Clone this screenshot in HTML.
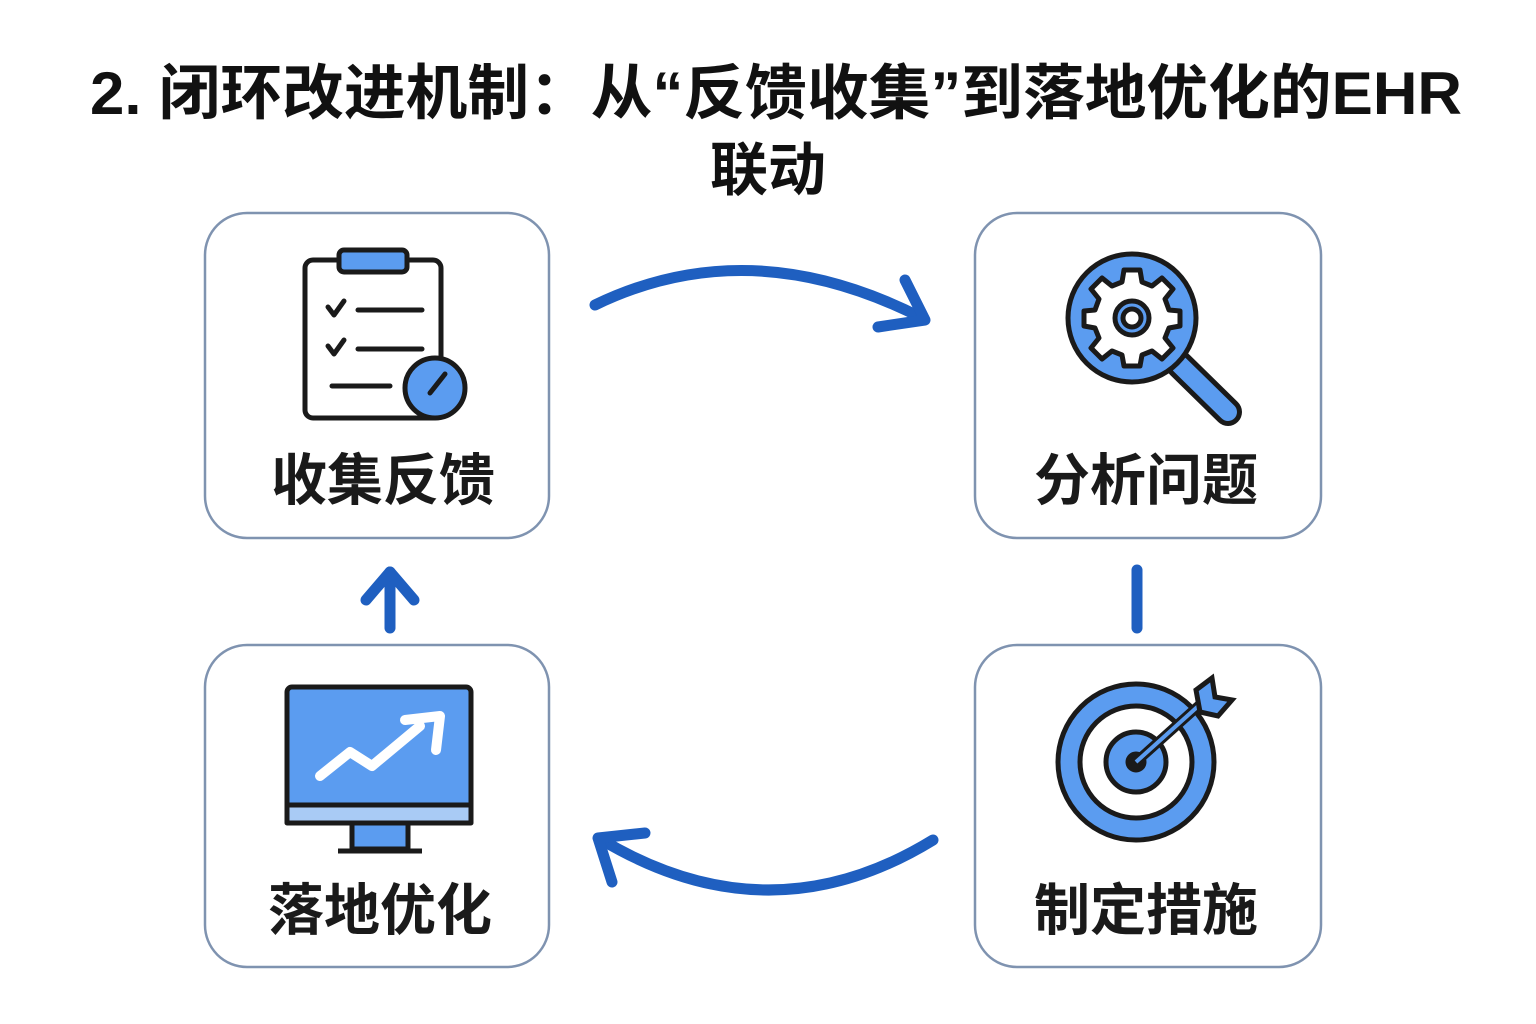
<!DOCTYPE html>
<html><head><meta charset="utf-8"><style>
html,body{margin:0;padding:0;background:#fff;}
svg{display:block}
</style></head><body>
<svg width="1536" height="1024" viewBox="0 0 1536 1024" xmlns="http://www.w3.org/2000/svg" font-family="'Liberation Sans','Noto Sans CJK SC',sans-serif">
<rect width="1536" height="1024" fill="#fff"/>
<text x="90" y="114" font-size="60" font-weight="bold" fill="#111" textLength="1372" lengthAdjust="spacingAndGlyphs">2. 闭环改进机制：从“反馈收集”到落地优化的EHR</text>
<text x="768" y="190" font-size="58" font-weight="bold" fill="#111" text-anchor="middle">联动</text>

<g fill="#fff" stroke="#7f93b0" stroke-width="2.5">
<rect x="205" y="213" width="344" height="325" rx="42"/>
<rect x="975" y="213" width="346" height="325" rx="42"/>
<rect x="205" y="645" width="344" height="322" rx="42"/>
<rect x="975" y="645" width="346" height="322" rx="42"/>
</g>

<g font-size="56" font-weight="bold" fill="#1a1a1a" text-anchor="middle">
<text x="383" y="500">收集反馈</text>
<text x="1146" y="500">分析问题</text>
<text x="380" y="930">落地优化</text>
<text x="1146" y="930">制定措施</text>
</g>

<g stroke="#1f5fc0" stroke-width="11" fill="none" stroke-linecap="round" stroke-linejoin="round">
<path d="M595 305 Q750 230 922 318"/>
<path d="M905 280 L925 320 L878 327"/>
<path d="M933 840 Q770 940 602 840"/>
<path d="M612 882 L598 838 L645 833"/>
<path d="M390 628 L390 572"/>
<path d="M366 600 L390 572 L414 600"/>
<path d="M1137 570 L1137 628"/>
</g>

<g stroke="#1a1a1a" stroke-width="5" fill="none" stroke-linecap="round" stroke-linejoin="round">
<rect x="305" y="260" width="136" height="158" rx="8" fill="#fff"/>
<rect x="339" y="250" width="68" height="22" rx="5" fill="#5b9cf0"/>
<path d="M328 307 l6 8 l10 -14"/><line x1="358" y1="310" x2="422" y2="310"/>
<path d="M328 346 l6 8 l10 -14"/><line x1="358" y1="349" x2="422" y2="349"/>
<line x1="332" y1="386" x2="390" y2="386"/>
<circle cx="435" cy="388" r="30" fill="#5b9cf0"/>
<line x1="430" y1="393" x2="445" y2="374"/>
</g>

<g stroke="#1a1a1a" stroke-width="5" stroke-linejoin="round">
<line x1="1180" y1="365" x2="1228" y2="412" stroke-width="28" stroke-linecap="round"/>
<line x1="1180" y1="365" x2="1228" y2="412" stroke="#5b9cf0" stroke-width="18" stroke-linecap="round"/>
<circle cx="1132" cy="318" r="64" fill="#5b9cf0"/>
<g transform="translate(1132 318)" fill="#fff">
<path d="M-8 -48 L8 -48 L10 -36 L20 -32 L30 -40 L41 -29 L33 -19 L37 -8 L48 -7 L48 8 L37 10 L33 20 L41 30 L30 41 L20 33 L10 37 L8 48 L-8 48 L-10 37 L-20 33 L-30 41 L-41 30 L-33 20 L-37 10 L-48 8 L-48 -7 L-37 -8 L-33 -19 L-41 -29 L-30 -40 L-20 -32 L-10 -36 Z"/>
<circle r="17" fill="#5b9cf0"/>
<circle r="9" fill="#fff"/>
</g>
</g>

<g stroke="#1a1a1a" stroke-width="5" stroke-linejoin="round">
<rect x="287" y="687" width="184" height="136" rx="5" fill="#5b9cf0"/>
<rect x="287" y="805" width="184" height="18" fill="#a9cbf5"/>
<rect x="352" y="823" width="56" height="26" fill="#5b9cf0"/>
<line x1="338" y1="851" x2="422" y2="851"/>
<path d="M320 776 L350 752 L372 766 L420 726" fill="none" stroke="#fff" stroke-width="10" stroke-linecap="round"/>
<path d="M405 720 L440 716 L436 750" fill="none" stroke="#fff" stroke-width="10" stroke-linecap="round"/>
</g>

<g stroke="#1a1a1a" stroke-width="5">
<circle cx="1136" cy="762" r="78" fill="#5b9cf0"/>
<circle cx="1136" cy="762" r="56" fill="#fff"/>
<circle cx="1136" cy="762" r="30" fill="#5b9cf0"/>
<circle cx="1136" cy="762" r="8" fill="#1a1a1a"/>
<line x1="1136" y1="762" x2="1205" y2="700" stroke-width="10"/>
<line x1="1136" y1="762" x2="1205" y2="700" stroke="#5b9cf0" stroke-width="4"/>
<path d="M1196 690 L1212 678 L1215 697 L1232 700 L1218 716 L1200 712 Z" fill="#5b9cf0"/>
</g>
</svg>
</body></html>
